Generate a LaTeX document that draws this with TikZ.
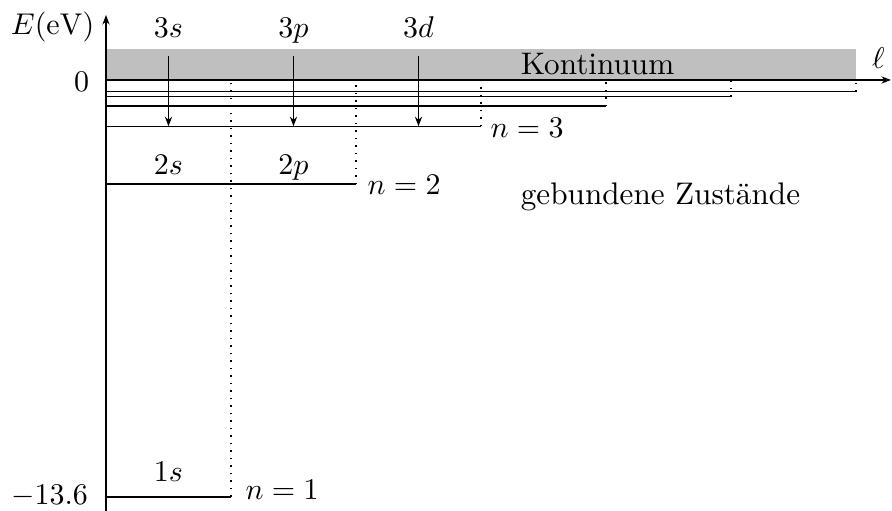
\documentclass[tikz,border=0pt]{standalone}
\usepackage{amsmath,amssymb}
\usepackage{tikz}
\usetikzlibrary{arrows.meta}
\definecolor{bandgray}{RGB}{191,191,191}
\tikzset{
  axisline/.style={-{Stealth[length=3.2pt,width=2.4pt]}, line width=0.5pt},
  decay/.style={-{Stealth[length=3.2pt,width=2.4pt]}, line width=0.5pt},
  level/.style={line width=0.5pt},
  guide/.style={dotted, line width=0.5pt},
  band/.style={fill=bandgray, draw=none},
  orblabel/.style={anchor=base, inner sep=0pt},
  nlabel/.style={anchor=base west, inner sep=0pt},
  ticklabel/.style={anchor=base east, inner sep=0pt},
}

\begin{document}
\begin{tikzpicture}[x=41.67pt, y=10.22pt, font=\fontsize{10.4}{12.5}\selectfont]
\useasboundingbox (-0.848,-14.057) rectangle (6.288,2.609);

% ============================ continuum band ===========================
\fill[band] (0,0) rectangle (6,1);
\node[orblabel] (kont) at (3.932,0.163) {Kontinuum};

% ============================ axes =====================================
\coordinate (origin) at (0,0);
\coordinate (ebottom) at (0,-14.06);
\coordinate (etop) at (0,2.12);
\coordinate (lend) at (6.28,0);
\draw[axisline] (ebottom) -- (etop);
\draw[axisline] (origin) -- (lend);
\node[ticklabel] (eaxis) at (-0.088,1.468) {$E(\mathrm{eV})$};
\node[orblabel] (laxis) at (6.18,0.39) {$\ell$};
\node[ticklabel] (zero) at (-0.13,-0.39) {$0$};
\node[ticklabel] (ground) at (-0.14,-13.86) {$-13.6$};

% ============================ bound levels E_n = -13.6/n^2 ==============
\foreach \n in {1,...,6} {
  \pgfmathsetmacro\En{-13.6/(\n*\n)}
  \coordinate (lev\n) at (0,\En);
  \coordinate (end\n) at (\n,\En);
  \coordinate (top\n) at (\n,0);
  \draw[level] (lev\n) -- (end\n);
  \draw[guide] (end\n) -- (top\n);
}
\node[nlabel] (n1) at (1.112,-13.70) {$n=1$};
\node[nlabel] (n2) at (2.088,-3.75) {$n=2$};
\node[nlabel] (n3) at (3.072,-1.89) {$n=3$};

% orbital labels above their levels
\node[orblabel] (l1s) at (0.5,-13.10) {$1s$};
\node[orblabel] (l2s) at (0.5,-3.07) {$2s$};
\node[orblabel] (l2p) at (1.5,-3.07) {$2p$};
\node[orblabel] (l3s) at (0.5,1.37) {$3s$};
\node[orblabel] (l3p) at (1.5,1.37) {$3p$};
\node[orblabel] (l3d) at (2.5,1.37) {$3d$};

% capture from the continuum into n=3
\foreach \l/\x in {s/0.5, p/1.5, d/2.5} {
  \coordinate (from\l) at (\x,0.78);
  \coordinate (to\l) at (\x,-1.511);
  \draw[decay] (from\l) -- (to\l);
}

\node[orblabel] (bound) at (4.436,-4.077) {gebundene Zust\"ande};

\end{tikzpicture}
\end{document}
